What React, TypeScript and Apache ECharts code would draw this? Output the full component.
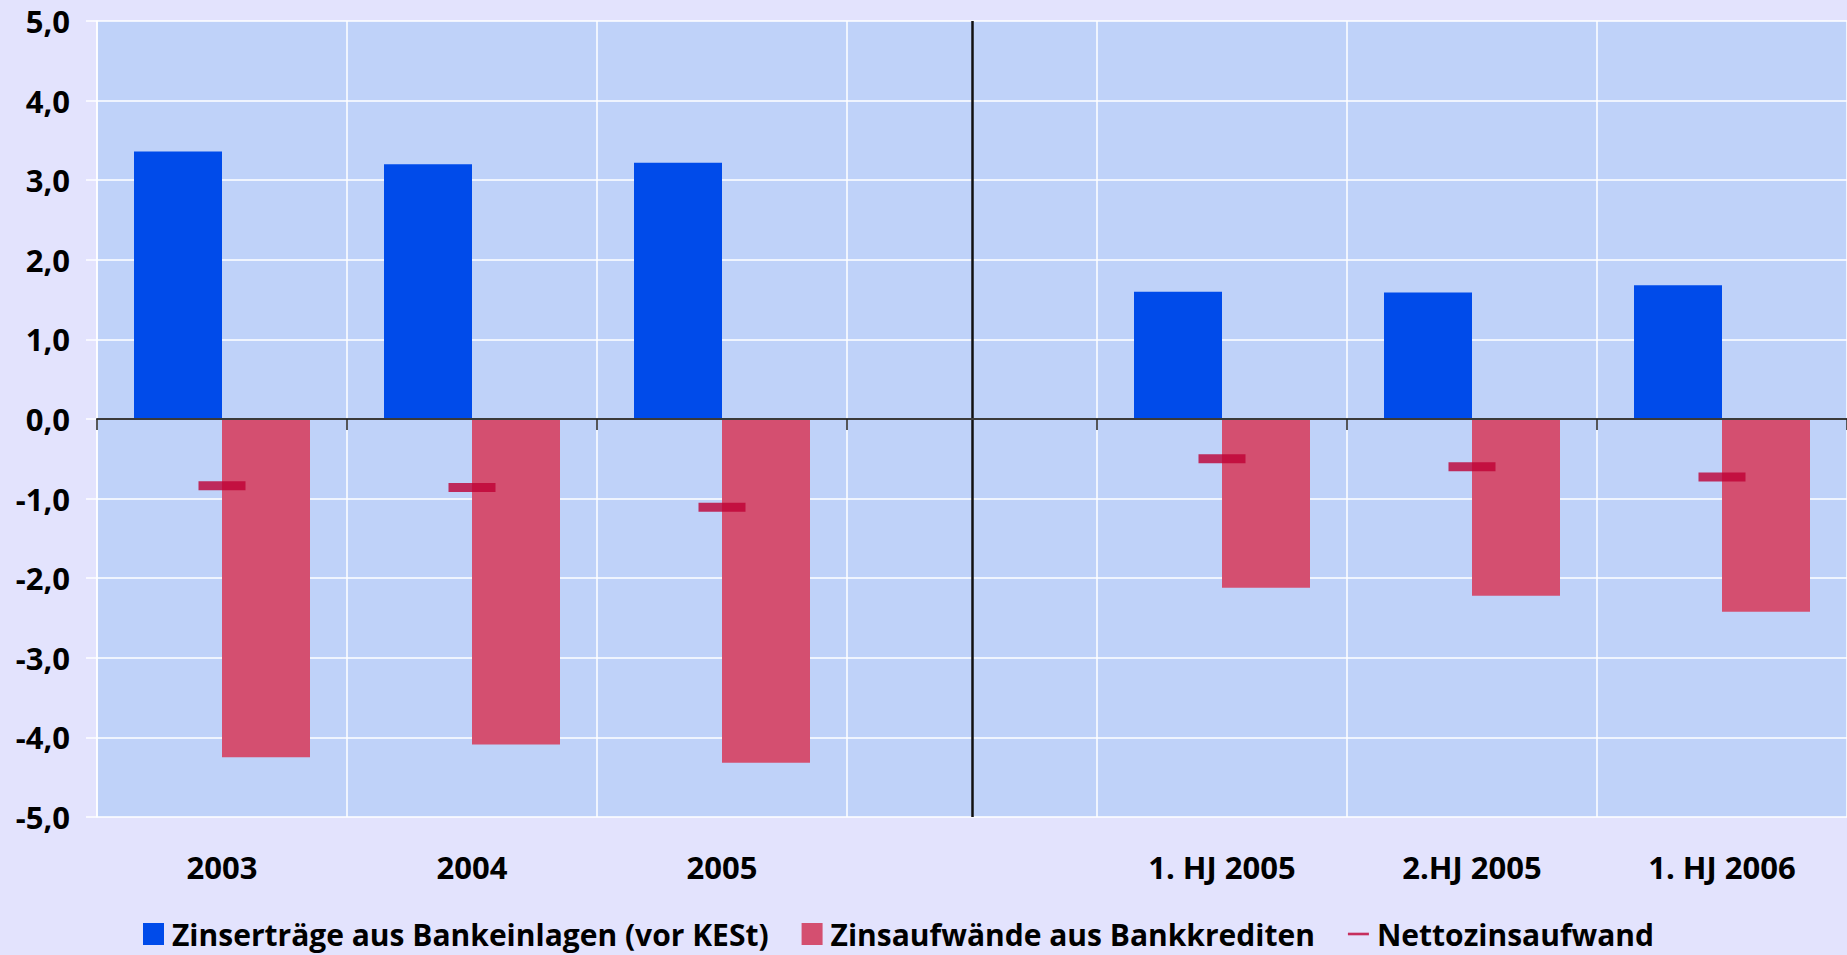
import React, { useEffect, useRef } from "react";
import * as echarts from "echarts";

const categories = ["2003", "2004", "2005", "", "1. HJ 2005", "2.HJ 2005", "1. HJ 2006"];
const ertraege = [3.36, 3.2, 3.22, null, 1.6, 1.59, 1.68];
const aufwaende = [-4.25, -4.09, -4.32, null, -2.12, -2.22, -2.42];
const netto = [-0.84, -0.86, -1.11, null, -0.5, -0.6, -0.73];
const seriesNames = [
  "Zinserträge aus Bankeinlagen (vor KESt)",
  "Zinsaufwände aus Bankkrediten",
  "Nettozinsaufwand",
];
const separatorIndex = 3;

export default function App() {
  const ref = useRef<HTMLDivElement>(null);
  useEffect(() => {
    if (!ref.current) return;
    const chart = echarts.init(ref.current, null, { renderer: "svg" });
    const axisFont = { fontFamily: "Open Sans", fontWeight: "bold" as const, fontSize: 31, color: "#000" };
    chart.setOption({
      animation: false,
      backgroundColor: "#E3E3FD",
      grid: {
        left: 97,
        top: 21,
        right: 0,
        bottom: 138,
        show: true,
        backgroundColor: "#BFD2F9",
        borderWidth: 0,
      },
      xAxis: [
        {
          type: "category",
          data: categories,
          position: "bottom",
          axisLine: { show: false, onZero: false },
          axisTick: { show: false },
          axisLabel: { show: false },
          splitLine: { show: true, lineStyle: { color: "#ffffff", width: 1.5 } },
          z: 0,
        },
        {
          type: "category",
          data: categories,
          position: "bottom",
          axisLine: { show: true, onZero: true, lineStyle: { color: "#3a3a3a", width: 2 } },
          axisTick: { show: true, length: 11, lineStyle: { color: "#222", width: 1.5 } },
          axisLabel: { show: false },
          splitLine: { show: false },
          z: 5,
        },
        {
          type: "category",
          data: categories,
          position: "bottom",
          axisLine: { show: false, onZero: false },
          axisTick: { show: false },
          axisLabel: { show: true, margin: 34, ...axisFont },
          splitLine: { show: false },
        },
      ],
      yAxis: {
        type: "value",
        min: -5,
        max: 5,
        interval: 1,
        axisLine: { show: true, lineStyle: { color: "#ffffff", width: 1.5 } },
        axisTick: { show: true, length: 11, lineStyle: { color: "#ffffff", width: 1.5 } },
        axisLabel: {
          margin: 27,
          formatter: (v: number) => v.toFixed(1).replace(".", ","),
          ...axisFont,
        },
        splitLine: { show: true, lineStyle: { color: "#ffffff", width: 1.5 } },
      },
      legend: {
        left: 138,
        top: 914,
        itemWidth: 21,
        itemHeight: 22,
        itemGap: 33,
        textStyle: {
          fontFamily: "Open Sans",
          fontWeight: "bold",
          fontSize: 30,
          lineHeight: 30,
          color: "#000",
          padding: [0, 0, 0, 3],
        },
        data: [
          { name: seriesNames[0], icon: "rect" },
          { name: seriesNames[1], icon: "rect" },
          { name: seriesNames[2], icon: "path://M0,0L24,0L24,3L0,3Z" },
        ],
      },
      series: [
        {
          name: seriesNames[0],
          type: "bar",
          xAxisIndex: 0,
          data: ertraege,
          barWidth: 88,
          barGap: "0%",
          itemStyle: { color: "#004BEA" },
        },
        {
          name: seriesNames[1],
          type: "bar",
          xAxisIndex: 0,
          data: aufwaende,
          barWidth: 88,
          barGap: "0%",
          itemStyle: { color: "#D44F70" },
        },
        {
          name: seriesNames[2],
          type: "scatter",
          xAxisIndex: 0,
          data: netto,
          symbol: "rect",
          symbolSize: [47, 9],
          itemStyle: { color: "#BE0034" },
          z: 6,
          markLine: {
            silent: true,
            symbol: "none",
            label: { show: false },
            lineStyle: { color: "#111111", width: 2.5, type: "solid" },
            data: [{ xAxis: separatorIndex }],
          },
        },
      ],
    });
    return () => chart.dispose();
  }, []);
  return (
    <div
      ref={ref}
      style={{ position: "fixed", left: 0, top: 0, width: 1847, height: 955 }}
    />
  );
}
